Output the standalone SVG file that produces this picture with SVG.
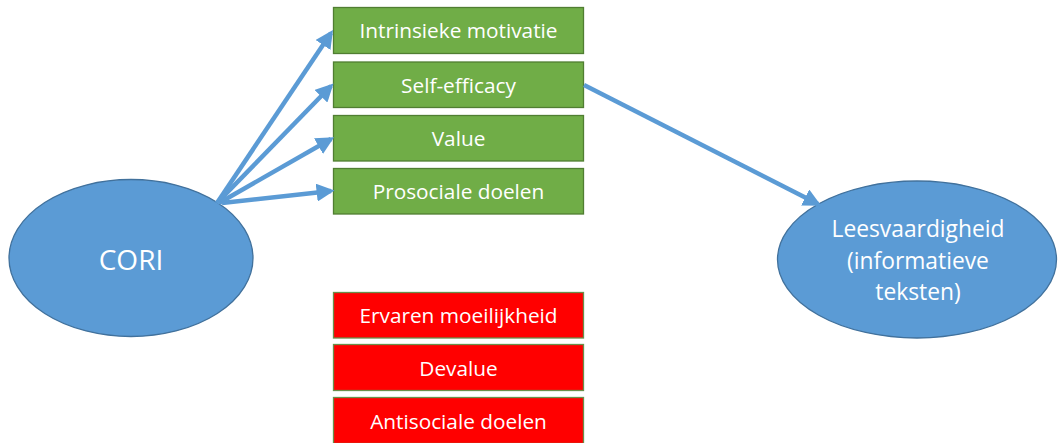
<svg xmlns="http://www.w3.org/2000/svg" width="1058" height="443" viewBox="0 0 1058 443">
<defs>
<marker id="ah" markerWidth="4" markerHeight="4" refX="3.2" refY="2" orient="auto" markerUnits="strokeWidth">
<path d="M0,0 L4,2 L0,4 Z" fill="#5B9BD5"/>
</marker>
<style>
.g{fill:#70AD47;stroke:#507E32;stroke-width:1.3}
.r{fill:#FF0000;stroke:#6A8F4A;stroke-width:1.3}
.e{fill:#5B9BD5;stroke:#41719C;stroke-width:1.3}
.t{font-family:"Open Sans","Liberation Sans",sans-serif;fill:#fff;text-anchor:middle}
.s{font-size:20.8px}
.c{stroke:#5B9BD5;stroke-width:4.5;fill:none;marker-end:url(#ah)}
</style>
</defs>
<rect width="1058" height="443" fill="#fff"/>
<g id="cori">
<ellipse class="e" cx="131" cy="258" rx="122" ry="78.5"/>
<text class="t" x="131" y="270" font-size="28">CORI</text>
</g>
<g id="lees">
<ellipse class="e" cx="917" cy="259.5" rx="139.5" ry="78.5"/>
<text class="t" x="918" y="237" font-size="22.8">Leesvaardigheid</text>
<text class="t" x="918" y="268.5" font-size="22.8">(informatieve</text>
<text class="t" x="918" y="300" font-size="22.8">teksten)</text>
</g>
<g id="intrinsiek">
<rect class="g" x="333.5" y="7.5" width="250" height="46"/>
<text class="t s" x="458.5" y="38">Intrinsieke motivatie</text>
</g>
<g id="selfefficacy">
<rect class="g" x="333.5" y="62" width="250" height="45.5"/>
<text class="t s" x="458.5" y="92.5">Self-efficacy</text>
</g>
<g id="value">
<rect class="g" x="333.5" y="115.5" width="250" height="45.5"/>
<text class="t s" x="458.5" y="146">Value</text>
</g>
<g id="prosociaal">
<rect class="g" x="333.5" y="168.5" width="250" height="45.5"/>
<text class="t s" x="458.5" y="199">Prosociale doelen</text>
</g>
<g id="ervaren">
<rect class="r" x="333.5" y="292.5" width="250" height="45.5"/>
<text class="t s" x="458.5" y="323">Ervaren moeilijkheid</text>
</g>
<g id="devalue">
<rect class="r" x="333.5" y="344.5" width="250" height="46"/>
<text class="t s" x="458.5" y="375.5">Devalue</text>
</g>
<g id="antisociaal">
<rect class="r" x="333.5" y="397.5" width="250" height="46"/>
<text class="t s" x="458.5" y="428.5">Antisociale doelen</text>
</g>
<g id="connectors">
<line class="c" x1="217" y1="203" x2="331" y2="33"/>
<line class="c" x1="217" y1="203" x2="331" y2="86"/>
<line class="c" x1="219" y1="203" x2="331" y2="139"/>
<line class="c" x1="222" y1="203" x2="331" y2="191"/>
<line class="c" x1="584" y1="85" x2="818" y2="204"/>
</g>
</svg>
